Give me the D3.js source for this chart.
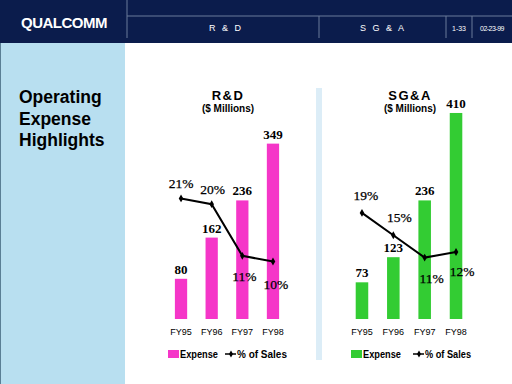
<!DOCTYPE html>
<html>
<head>
<meta charset="utf-8">
<script src="https://cdn.jsdelivr.net/npm/d3@7"></script>
<style>
  body { margin: 0; background: #fff; }
  svg { display: block; }
  .sans { font-family: Arial, "Liberation Sans", sans-serif; }
  .serif { font-family: "Times New Roman", "Liberation Serif", serif; }
</style>
</head>
<body>
<svg id="slide" width="512" height="384"></svg>
<script>
// Data
var years = ["FY95", "FY96", "FY97", "FY98"];
var rdExpense = [80, 162, 236, 349];
var rdPct = [21, 20, 11, 10];
var sgaExpense = [73, 123, 236, 410];
var sgaPct = [19, 15, 11, 12];
var headerTabs = ["R & D", "S G & A", "1-33", "02-23-99"];

// Colors
var navy = "#0b1c4c";
var panelBlue = "#b8dff0";
var stripBlue = "#dcedf7";
var pink = "#f536c8";
var green = "#33cc33";

var svg = d3.select("#slide");

// Header band
svg.append("rect").attr("x", 0).attr("y", 0).attr("width", 512).attr("height", 43).style("fill", navy);
svg.append("line").attr("x1", 127).attr("x2", 127).attr("y1", 0).attr("y2", 38).style("stroke", "#6a7a9a").style("stroke-width", 1);
svg.append("line").attr("x1", 127).attr("x2", 512).attr("y1", 16).attr("y2", 16).style("stroke", "#6a7a9a").style("stroke-width", 1);
[319, 446, 472].forEach(function(x) {
  svg.append("line").attr("x1", x).attr("x2", x).attr("y1", 16).attr("y2", 38).style("stroke", "#6a7a9a").style("stroke-width", 1);
});
svg.append("text").attr("class", "sans").attr("x", 64).attr("y", 28)
   .attr("text-anchor", "middle").style("fill", "#fff").style("font-size", "15px").style("font-weight", "bold")
   .style("letter-spacing", "-0.5px").text("QUALCOMM");
var tabX = [226, 383, 459, 492];
var tabSize = ["9px", "9px", "7px", "7px"];
var tabSpacing = ["2px", "2px", "0px", "-0.5px"];
svg.selectAll(".tab").data(headerTabs).enter().append("text")
   .attr("class", "tab sans")
   .attr("x", function(d, i) { return tabX[i]; })
   .attr("y", 31)
   .attr("text-anchor", "middle")
   .style("fill", "#fff")
   .style("font-size", function(d, i) { return tabSize[i]; })
   .style("letter-spacing", function(d, i) { return tabSpacing[i]; })
   .text(function(d) { return d; });

// Left panel
svg.append("rect").attr("x", 0).attr("y", 43).attr("width", 125).attr("height", 341).style("fill", panelBlue);
svg.append("line").attr("x1", 0.5).attr("x2", 0.5).attr("y1", 43).attr("y2", 384).style("stroke", "#5a7f95");
["Operating", "Expense", "Highlights"].forEach(function(t, i) {
  svg.append("text").attr("class", "sans").attr("x", 19).attr("y", 103 + i * 21.5)
     .style("font-size", "17.5px").style("font-weight", "bold").style("fill", "#000").text(t);
});

// Middle strip
svg.append("rect").attr("x", 316).attr("y", 88).attr("width", 6).attr("height", 272).style("fill", stripBlue);

// Shared scales
var yScale = d3.scaleLinear().domain([0, 400]).range([319, 118]);

function drawChart(cfg) {
  var xScale = d3.scaleBand().domain(years).range([cfg.x0, cfg.x1]).paddingInner(0.6).paddingOuter(0.3);
  var pScale = d3.scaleLinear().domain([0, cfg.pctMax]).range([319, 118]);
  var g = svg.append("g");
  var cx = function(d, i) { return xScale(years[i]) + xScale.bandwidth() / 2; };

  // Title
  g.append("text").attr("class", "sans").attr("x", cfg.titleX).attr("y", 100).attr("text-anchor", "middle")
   .style("font-size", "13px").style("font-weight", "bold").style("letter-spacing", "1.5px").text(cfg.title);
  g.append("text").attr("class", "sans").attr("x", cfg.titleX).attr("y", 112).attr("text-anchor", "middle")
   .style("font-size", "10px").style("font-weight", "bold").text("($ Millions)");

  // Bars
  g.selectAll(".bar").data(cfg.expense).enter().append("rect")
   .attr("x", function(d, i) { return xScale(years[i]); })
   .attr("y", function(d) { return yScale(d); })
   .attr("width", xScale.bandwidth())
   .attr("height", function(d) { return yScale(0) - yScale(d); })
   .style("fill", cfg.color);
  g.selectAll(".val").data(cfg.expense).enter().append("text")
   .attr("class", "serif")
   .attr("x", cx)
   .attr("y", function(d) { return yScale(d) - 5; })
   .attr("text-anchor", "middle")
   .style("font-size", "13px").style("font-weight", "bold")
   .text(function(d) { return d; });

  // Line
  var line = d3.line().x(function(d, i) { return cx(d, i); }).y(function(d) { return pScale(d); });
  g.append("path").datum(cfg.pct).attr("d", line).style("fill", "none").style("stroke", "#000").style("stroke-width", 2);
  g.selectAll(".dot").data(cfg.pct).enter().append("path")
   .attr("d", d3.symbol().type(d3.symbolDiamond).size(18))
   .attr("transform", function(d, i) { return "translate(" + cx(d, i) + "," + pScale(d) + ")"; })
   .style("fill", "#000");
  g.selectAll(".pct").data(cfg.pct).enter().append("text")
   .attr("class", "serif")
   .attr("x", function(d, i) { return cx(d, i) + cfg.pctDx[i]; })
   .attr("y", function(d, i) { return pScale(d) + cfg.pctDy[i]; })
   .attr("text-anchor", "middle")
   .style("font-size", "13.5px")
   .style("stroke", "#000").style("stroke-width", 0.25)
   .text(function(d) { return d + "%"; });

  // X axis labels
  var axis = d3.axisBottom(xScale).tickSize(0).tickPadding(0);
  var ag = g.append("g").attr("transform", "translate(0,329)").call(axis);
  ag.select(".domain").remove();
  ag.selectAll("text").style("font-size", "9px").style("font-family", "Arial, 'Liberation Sans', sans-serif").style("fill", "#000").attr("dy", "0.71em");

  // Legend
  var lg = g.append("g").attr("transform", "translate(" + cfg.legendX + ",0)");
  lg.append("rect").attr("x", 0).attr("y", 350).attr("width", 11).attr("height", 8).style("fill", cfg.color);
  lg.append("text").attr("class", "sans").attr("x", 12).attr("y", 358).attr("textLength", 38).attr("lengthAdjust", "spacingAndGlyphs")
    .style("font-size", "11px").style("font-weight", "bold").text("Expense");
  lg.append("line").attr("x1", cfg.legendLine).attr("x2", cfg.legendLine + 11).attr("y1", 354).attr("y2", 354).style("stroke", "#000").style("stroke-width", 1.5);
  lg.append("path").attr("d", d3.symbol().type(d3.symbolDiamond).size(14))
    .attr("transform", "translate(" + (cfg.legendLine + 6) + ",354)").style("fill", "#000");
  lg.append("text").attr("class", "sans").attr("x", cfg.legendLine + 12).attr("y", 358).attr("textLength", cfg.pctLegendW).attr("lengthAdjust", "spacingAndGlyphs")
    .style("font-size", "11px").style("font-weight", "bold").text("% of Sales");
}

drawChart({
  title: "R&D", titleX: 228, x0: 165.7, x1: 288.3, color: pink,
  expense: rdExpense, pct: rdPct, pctMax: 35,
  pctDx: [0, 1, 2, 3], pctDy: [-10, -10, 25.5, 27],
  legendX: 168, legendLine: 57, pctLegendW: 50
});
drawChart({
  title: "SG&A", titleX: 410, x0: 346.3, x1: 471.7, color: green,
  expense: sgaExpense, pct: sgaPct, pctMax: 36,
  pctDx: [4, 6, 7, 6], pctDy: [-13, -13, 25, 24],
  legendX: 351, legendLine: 62, pctLegendW: 46
});
</script>
</body>
</html>
